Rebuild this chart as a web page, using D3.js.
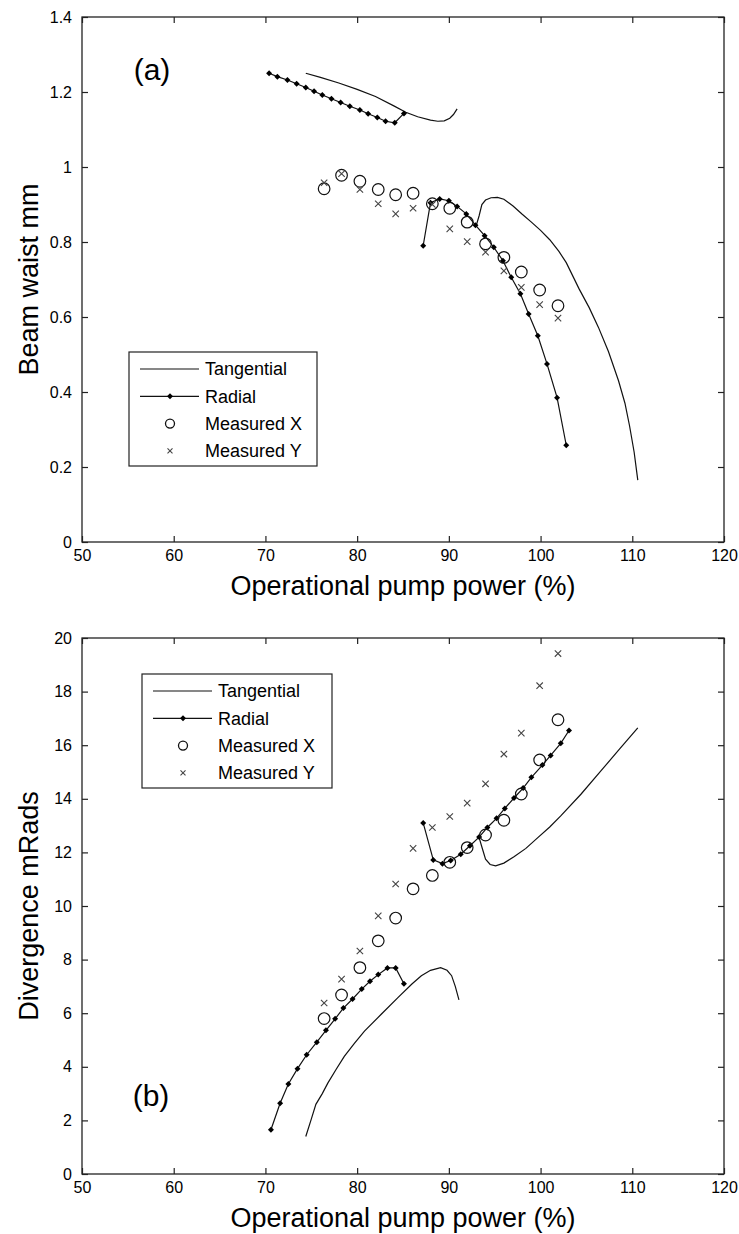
<!DOCTYPE html>
<html>
<head>
<meta charset="utf-8">
<script src="https://cdn.jsdelivr.net/npm/d3@7"></script>
<style>
  body { margin: 0; background: #fff; }
  svg { display: block; font-family: "Liberation Sans", Arial, sans-serif; }
</style>
</head>
<body>
<svg id="chart" width="739" height="1234"></svg>
<script>
// x ticks shared by both panels
var powerTicks = [50, 60, 70, 80, 90, 100, 110, 120]
var waistTicks = [0, 0.2, 0.4, 0.6, 0.8, 1, 1.2, 1.4]
var divTicks = [0, 2, 4, 6, 8, 10, 12, 14, 16, 18, 20]

// measured pump powers (same for X and Y)
var pumpMeas = [76.4, 78.3, 80.3, 82.3, 84.2, 86.1, 88.2, 90.1, 92.0, 94.0, 96.0, 97.9, 99.9, 101.9]

// (a) beam waist
var waistTangUpper = [[74.4,1.250],[76,1.239],[78,1.224],[80,1.207],[82,1.188],[84,1.163],[85.3,1.146],[86.6,1.134],[88,1.125],[88.8,1.122],[89.5,1.123],[90.1,1.13],[90.5,1.14],[90.9,1.155]]
var waistTangLower = [[93.0,0.845],[93.3,0.87],[93.6,0.9],[94.0,0.912],[94.6,0.918],[95.3,0.919],[96,0.914],[97,0.896],[98,0.874],[99,0.853],[100,0.831],[101,0.806],[102,0.775],[102.8,0.745],[103.6,0.705],[104.2,0.675],[105.3,0.625],[106.3,0.573],[107.4,0.508],[108.5,0.43],[109.2,0.37],[109.7,0.31],[110.2,0.24],[110.6,0.165]]
var waistRadUpper = [[70.4,1.250],[71.3,1.241],[72.4,1.232],[73.4,1.222],[74.4,1.212],[75.3,1.202],[76.2,1.192],[77.2,1.182],[78.2,1.172],[79.2,1.162],[80.3,1.152],[81.2,1.142],[82.2,1.132],[83.1,1.122],[84.1,1.118],[85.1,1.143]]
var waistRadLower = [[87.2,0.79],[88.0,0.905],[89.0,0.915],[90.0,0.91],[90.9,0.895],[91.9,0.875],[92.9,0.845],[93.9,0.817],[94.9,0.786],[95.9,0.75],[96.8,0.706],[97.8,0.662],[98.7,0.608],[99.7,0.55],[100.7,0.475],[101.8,0.385],[102.8,0.258]]
var waistMeasX = [0.942, 0.978, 0.962, 0.94, 0.926, 0.93, 0.902, 0.89, 0.853, 0.795, 0.759, 0.72, 0.672, 0.63]
var waistMeasY = [0.958, 0.982, 0.94, 0.902, 0.875, 0.89, 0.9, 0.835, 0.801, 0.773, 0.723, 0.679, 0.633, 0.597]

// (b) divergence
var divTangLower = [[74.4,1.4],[75.0,2.05],[75.5,2.6],[76.2,3.0],[76.8,3.39],[77.7,3.9],[78.6,4.39],[79.7,4.87],[80.8,5.33],[82.6,5.95],[84.5,6.6],[86.0,7.1],[87.0,7.4],[88.0,7.6],[89.1,7.7],[89.8,7.6],[90.3,7.4],[90.7,7.0],[91.1,6.5]]
var divTangUpper = [[93.3,12.55],[93.6,12.2],[94.0,11.75],[94.5,11.55],[95.1,11.5],[96,11.6],[97.1,11.84],[98.4,12.15],[99.7,12.55],[101,12.95],[102.2,13.36],[104.4,14.17],[106.6,15.05],[108.6,15.85],[110.6,16.65]]
var divRadLower = [[70.6,1.65],[71.6,2.64],[72.5,3.36],[73.5,3.93],[74.5,4.45],[75.6,4.92],[76.6,5.36],[77.6,5.79],[78.5,6.19],[79.5,6.53],[80.5,6.9],[81.4,7.19],[82.3,7.44],[83.3,7.69],[84.2,7.69],[85.1,7.1]]
var divRadUpper = [[87.2,13.1],[88.3,11.72],[89.3,11.58],[90.2,11.7],[91.3,11.93],[92.3,12.25],[93.3,12.57],[94.2,12.93],[95.2,13.27],[96.1,13.64],[97.1,14.03],[98.1,14.4],[99.0,14.8],[100.2,15.26],[101.1,15.62],[102.2,16.07],[103.1,16.55]]
var divMeasX = [5.8, 6.68, 7.7, 8.7, 9.55, 10.64, 11.14, 11.63, 12.18, 12.65, 13.2, 14.18, 15.45, 16.95]
var divMeasY = [6.38, 7.27, 8.32, 9.63, 10.82, 12.15, 12.93, 13.34, 13.84, 14.56, 15.67, 16.45, 18.22, 19.42]

var legendNames = ['Tangential', 'Radial', 'Measured X', 'Measured Y']

var svg = d3.select('#chart')
var left = 82, right = 724

function cross (g, cx, cy, s) {
  g.append('path')
    .attr('d', 'M' + (cx - s) + ',' + (cy - s) + 'L' + (cx + s) + ',' + (cy + s) + 'M' + (cx - s) + ',' + (cy + s) + 'L' + (cx + s) + ',' + (cy - s))
    .attr('stroke', '#444').attr('stroke-width', 1.1).attr('fill', 'none')
}

function diamond (g, cx, cy, s) {
  g.append('path')
    .attr('d', 'M' + cx + ',' + (cy - s) + 'L' + (cx + s) + ',' + cy + 'L' + cx + ',' + (cy + s) + 'L' + (cx - s) + ',' + cy + 'Z')
    .attr('fill', '#000')
}

function drawPanel (p) {
  var x = d3.scaleLinear().domain([50, 120]).range([left, right])
  var y = d3.scaleLinear().domain(p.yDomain).range([p.bottom, p.top])
  var g = svg.append('g')

  var line = d3.line().x(function (d) { return x(d[0]) }).y(function (d) { return y(d[1]) })

  // curves
  p.tang.forEach(function (seg) {
    g.append('path').attr('d', line(seg)).attr('fill', 'none').attr('stroke', '#111').attr('stroke-width', 1.2)
  })
  p.rad.forEach(function (seg) {
    g.append('path').attr('d', line(seg)).attr('fill', 'none').attr('stroke', '#111').attr('stroke-width', 1.2)
    seg.forEach(function (d) { diamond(g, x(d[0]), y(d[1]), 3) })
  })
  pumpMeas.forEach(function (px, i) {
    g.append('circle').attr('cx', x(px)).attr('cy', y(p.measX[i])).attr('r', 5.8)
      .attr('fill', 'none').attr('stroke', '#111').attr('stroke-width', 1.2)
    cross(g, x(px), y(p.measY[i]), 3.2)
  })

  // box + axes
  g.append('rect').attr('x', left).attr('y', p.top).attr('width', right - left).attr('height', p.bottom - p.top)
    .attr('fill', 'none').attr('stroke', '#222').attr('stroke-width', 1.3)

  var ax = g.append('g').attr('transform', 'translate(0,' + p.bottom + ')')
    .call(d3.axisBottom(x).tickValues(powerTicks).tickSizeInner(-6).tickSizeOuter(0).tickPadding(10))
  var axTop = g.append('g').attr('transform', 'translate(0,' + p.top + ')')
    .call(d3.axisTop(x).tickValues(powerTicks).tickSizeInner(-6).tickSizeOuter(0).tickFormat(''))
  var ay = g.append('g').attr('transform', 'translate(' + left + ',0)')
    .call(d3.axisLeft(y).tickValues(p.yTicks).tickSizeInner(-6).tickSizeOuter(0).tickPadding(10).tickFormat(d3.format('')))
  var ayR = g.append('g').attr('transform', 'translate(' + right + ',0)')
    .call(d3.axisRight(y).tickValues(p.yTicks).tickSizeInner(-6).tickSizeOuter(0).tickFormat(''))
  ;[ax, axTop, ay, ayR].forEach(function (a) {
    a.select('.domain').remove()
    a.selectAll('line').attr('stroke', '#222').attr('stroke-width', 1.2)
    a.selectAll('text').attr('font-size', 16).attr('fill', '#000').attr('font-family', '"Liberation Sans", Arial, sans-serif')
  })
  ax.selectAll('text').attr('dy', '0.55em')

  g.append('text').attr('x', (left + right) / 2).attr('y', p.bottom + 53)
    .attr('text-anchor', 'middle').attr('font-size', 27).text('Operational pump power (%)')
  g.append('text').attr('transform', 'translate(' + 38 + ',' + ((p.top + p.bottom) / 2) + ') rotate(-90)')
    .attr('text-anchor', 'middle').attr('font-size', 27).text(p.yLabel)
  g.append('text').attr('x', p.tagX).attr('y', p.tagY).attr('text-anchor', 'middle')
    .attr('font-size', 30).text(p.tag)

  // legend
  var L = p.legend
  var lg = g.append('g').attr('transform', 'translate(' + L.x + ',' + L.y + ')')
  lg.append('rect').attr('width', L.w).attr('height', 114).attr('fill', '#fff')
    .attr('stroke', '#222').attr('stroke-width', 1.2)
  legendNames.forEach(function (name, i) {
    var cy = 17 + i * 27.3
    if (i < 2) {
      lg.append('line').attr('x1', 11).attr('x2', 70).attr('y1', cy).attr('y2', cy)
        .attr('stroke', '#111').attr('stroke-width', 1.2)
    }
    if (i === 1) diamond(lg, 41, cy, 3)
    if (i === 2) lg.append('circle').attr('cx', 41).attr('cy', cy).attr('r', 4.5).attr('fill', 'none').attr('stroke', '#111').attr('stroke-width', 1.3)
    if (i === 3) cross(lg, 41, cy, 2.5)
    lg.append('text').attr('x', 76).attr('y', cy).attr('dy', '0.36em').attr('font-size', 18).text(name)
  })
}

drawPanel({
  top: 17, bottom: 542, yDomain: [0, 1.4], yTicks: waistTicks, yLabel: 'Beam waist mm',
  tang: [waistTangUpper, waistTangLower], rad: [waistRadUpper, waistRadLower],
  measX: waistMeasX, measY: waistMeasY,
  tag: '(a)', tagX: 152, tagY: 80,
  legend: { x: 129, y: 352, w: 188 }
})

drawPanel({
  top: 638, bottom: 1174, yDomain: [0, 20], yTicks: divTicks, yLabel: 'Divergence mRads',
  tang: [divTangLower, divTangUpper], rad: [divRadLower, divRadUpper],
  measX: divMeasX, measY: divMeasY,
  tag: '(b)', tagX: 151, tagY: 1106,
  legend: { x: 142, y: 674, w: 190 }
})
</script>
</body>
</html>
